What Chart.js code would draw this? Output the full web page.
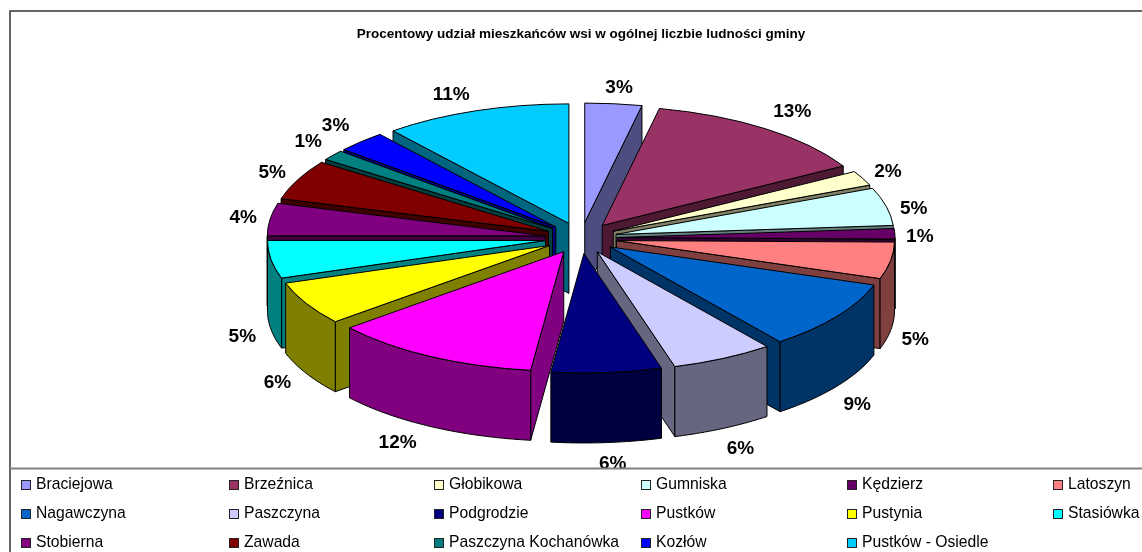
<!DOCTYPE html>
<html><head><meta charset="utf-8">
<style>html,body{margin:0;padding:0;background:#fff}#w{position:relative;width:1142px;height:552px}</style>
<script src="https://cdn.jsdelivr.net/npm/chart.js@4"></script></head>
<body><div id="w"><canvas id="c" width="1142" height="552"></canvas></div>
<script>
const chartTitle = 'Procentowy udział mieszkańców wsi w ogólnej liczbie ludności gminy';
const categories = ['Braciejowa','Brzeźnica','Głobikowa','Gumniska','Kędzierz','Latoszyn','Nagawczyna','Paszczyna','Podgrodzie','Pustków','Pustynia','Stasiówka','Stobierna','Zawada','Paszczyna Kochanówka','Kozłów','Pustków - Osiedle'];
const shares = [3.3,13.4,2.0,5.1,1.4,4.95,9.4,5.95,6.4,12.1,5.9,5.1,4.4,5.4,1.4,2.9,10.9];
const colors = ['#9999FF','#993366','#FFFFCC','#CCFFFF','#660066','#FF8080','#0066CC','#CCCCFF','#000080','#FF00FF','#FFFF00','#00FFFF','#800080','#800000','#008080','#0000FF','#00CCFF'];
const wallColors = ['#4D4D80','#4D1933','#808066','#668080','#330033','#804040','#003366','#666680','#000040','#800080','#808000','#008080','#400040','#400000','#004040','#000080','#006680'];

const GEO = {cx:581, cy:238, k:0.43, radius:278, explode:36, depth:70};
const total = shares.reduce((a,b)=>a+b,0);
const labelNudge = [[3,1],[12,-3],[3,1],[3,6],[0,4],[0,65],[0,38],[6,13],[4,4],[-21,10],[-7,37],[-4,63],[-2,1],[-3,0],[-5,-3],[-8,-4],[-16,0]];

function squash(ctx, chart){
  const a = chart.chartArea;
  const ox=(a.left+a.right)/2, oy=(a.top+a.bottom)/2;
  ctx.translate(GEO.cx, GEO.cy);
  ctx.scale(1, GEO.k);
  ctx.translate(-ox, -oy);
}
function scr(chart, x, y){
  const a = chart.chartArea;
  const ox=(a.left+a.right)/2, oy=(a.top+a.bottom)/2;
  return [GEO.cx + (x-ox), GEO.cy + (y-oy)*GEO.k];
}
const pie3d = {
  id:'pie3d',
  afterDatasetsUpdate(chart){
    chart.getDatasetMeta(0).data.forEach(el=>{
      const mid=(el.startAngle+el.endAngle)/2;
      el.x+=GEO.explode*Math.cos(mid);
      el.y+=GEO.explode*Math.sin(mid);
    });
  },
  beforeDatasetsDraw(chart){
    const ctx=chart.ctx, D=GEO.depth;
    const arcs=chart.getDatasetMeta(0).data.map((el,i)=>({el,i}));
    arcs.sort((p,q)=>Math.sin((p.el.startAngle+p.el.endAngle)/2)-Math.sin((q.el.startAngle+q.el.endAngle)/2));
    ctx.save();
    ctx.lineWidth=1; ctx.strokeStyle='#000'; ctx.lineJoin='round';
    arcs.forEach(({el,i})=>{
      const r=el.outerRadius, a0=el.startAngle, a1=el.endAngle;
      const [ax,ay]=scr(chart,el.x,el.y);
      const rim=t=>scr(chart,el.x+r*Math.cos(t),el.y+r*Math.sin(t));
      ctx.fillStyle=wallColors[i];
      const quad=t=>{
        const p=rim(t);
        ctx.beginPath();ctx.moveTo(ax,ay);ctx.lineTo(p[0],p[1]);ctx.lineTo(p[0],p[1]+D);ctx.lineTo(ax,ay+D);ctx.closePath();ctx.fill();ctx.stroke();
      };
      if(Math.cos(a0)<0) quad(a0);
      if(Math.cos(a1)>0) quad(a1);
      const s=Math.max(a0,0), e=Math.min(a1,Math.PI);
      const s2=Math.max(a0,2*Math.PI), e2=Math.min(a1,3*Math.PI);
      [[s,e],[s2,e2]].forEach(([u,v])=>{
        if(v<=u) return;
        ctx.beginPath();
        const n=Math.max(4,Math.ceil((v-u)*60));
        for(let j=0;j<=n;j++){const p=rim(u+(v-u)*j/n); j?ctx.lineTo(p[0],p[1]):ctx.moveTo(p[0],p[1]);}
        for(let j=n;j>=0;j--){const p=rim(u+(v-u)*j/n); ctx.lineTo(p[0],p[1]+D);}
        ctx.closePath();ctx.fill();ctx.stroke();
      });
    });
    ctx.restore();
    ctx.save();
    squash(ctx,chart);
  },
  afterDatasetsDraw(chart){
    const ctx=chart.ctx;
    ctx.restore();
    const meta=chart.getDatasetMeta(0);
    ctx.strokeStyle='#000'; ctx.lineWidth=1;
    meta.data.forEach(el=>{
      ctx.save();
      squash(ctx,chart);
      ctx.beginPath();ctx.moveTo(el.x,el.y);ctx.arc(el.x,el.y,el.outerRadius,el.startAngle,el.endAngle);ctx.closePath();
      ctx.restore();
      ctx.stroke();
    });
    ctx.save();
    ctx.fillStyle='#000';ctx.font='bold 19px "Liberation Sans", Arial, sans-serif';ctx.textAlign='center';ctx.textBaseline='middle';
    meta.data.forEach((el,i)=>{
      const mid=(el.startAngle+el.endAngle)/2, c=Math.cos(mid), s=Math.sin(mid);
      const p=scr(chart,el.x+el.outerRadius*c,el.y+el.outerRadius*s);
      const x=p[0]+c*25+labelNudge[i][0];
      const y=p[1]+s*17+Math.max(s,0)*GEO.depth+labelNudge[i][1];
      ctx.fillText(Math.round(shares[i]/total*100)+'%',x,y);
    });
    ctx.restore();
  },
  afterDraw(chart){
    const ctx=chart.ctx;
    ctx.save();
    ctx.fillStyle='#fff';ctx.fillRect(10,468,1132,84);
    ctx.strokeStyle='#333';ctx.lineWidth=1.5;
    ctx.beginPath();ctx.moveTo(10,552);ctx.lineTo(10,11);ctx.lineTo(1142,11);ctx.stroke();
    ctx.strokeStyle='#808080';ctx.lineWidth=2;
    ctx.beginPath();ctx.moveTo(10,468.5);ctx.lineTo(1142,468.5);ctx.stroke();
    const colX=[21,229,434,641,847,1053], rowY=[485,514,543];
    ctx.font='15.7px "Liberation Sans", Arial, sans-serif';ctx.textBaseline='middle';ctx.textAlign='left';
    chart.data.labels.forEach((t,i)=>{
      const x=colX[i%6], y=rowY[Math.floor(i/6)];
      ctx.fillStyle=colors[i];ctx.fillRect(x+.5,y-4.5,9,9);
      ctx.strokeStyle='#222';ctx.lineWidth=1;ctx.strokeRect(x+.5,y-4.5,9,9);
      ctx.fillStyle='#000';ctx.fillText(t,x+15,y);
    });
    ctx.restore();
  }
};
new Chart(document.getElementById('c'),{
  type:'pie',
  data:{labels:categories,datasets:[{data:shares,backgroundColor:colors,borderWidth:0,clip:false}]},
  plugins:[pie3d],
  options:{
    responsive:false,animation:false,radius:GEO.radius,rotation:0,
    layout:{padding:{left:20,right:0,top:26,bottom:60}},
    plugins:{
      legend:{display:false},tooltip:{enabled:false},
      title:{display:true,text:chartTitle,color:'#000',padding:0,font:{family:'"Liberation Sans", Arial, sans-serif',size:13.5,weight:'bold'}}
    }
  }
});
</script></body></html>
